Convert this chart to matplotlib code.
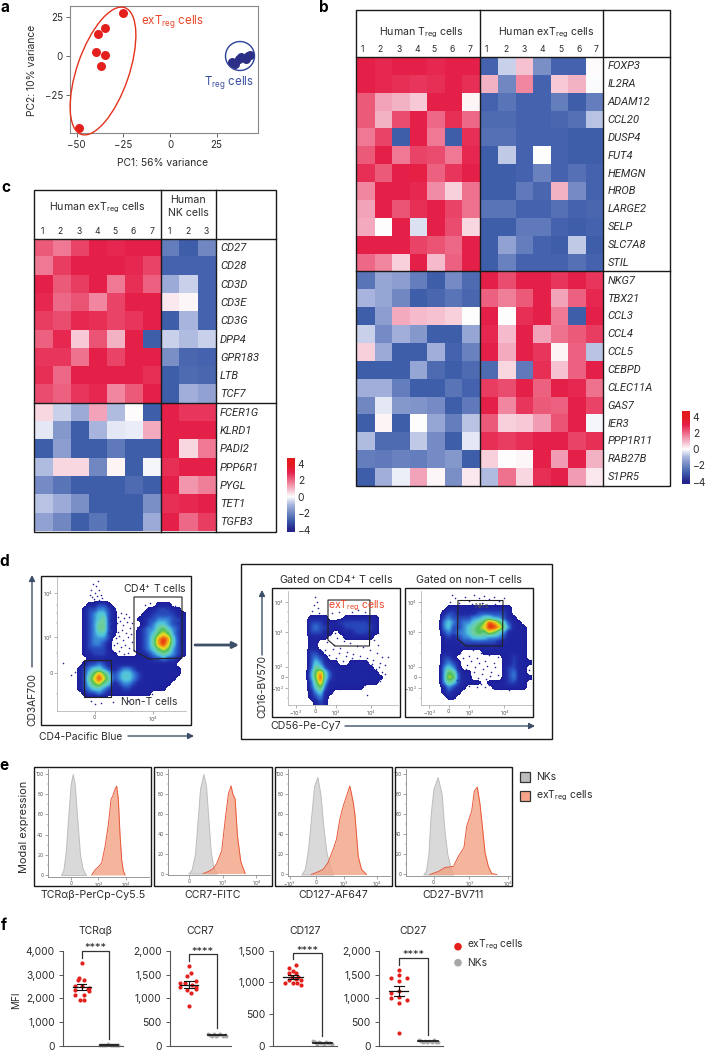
import numpy as np
import matplotlib
matplotlib.use('Agg')
import matplotlib.pyplot as plt
from matplotlib.colors import LinearSegmentedColormap
from matplotlib.patches import Ellipse, Polygon, Rectangle

W, H = 706, 1050
plt.rcParams['font.family'] = ['Inter', 'DejaVu Sans']
plt.rcParams['mathtext.default'] = 'regular'
TXT = '#2b2b2b'
ITALIC = 'Roboto'

# panel a
pc1_ex = [-25, -35, -38.5, -39.5, -35, -37, -49]
pc2_ex = [28, 18, 14, 3, 1, -6.5, -46.5]
pc1_tr = [33, 34.5, 35, 37, 38, 40.5, 42, 43]
pc2_tr = [-3.5, -4.5, -5, -1.5, -0.5, -2, 0, 1]

# panel b
genes_b = ['FOXP3', 'IL2RA', 'ADAM12', 'CCL20', 'DUSP4', 'FUT4', 'HEMGN', 'HROB', 'LARGE2', 'SELP', 'SLC7A8', 'STIL',
           'NKG7', 'TBX21', 'CCL3', 'CCL4', 'CCL5', 'CEBPD', 'CLEC11A', 'GAS7', 'IER3', 'PPP1R11', 'RAB27B', 'S1PR5']
heat_b = [
    [3, 2.9, 3, 3, 2.9, 3, 3, -2.8, -0.6, 0.8, -1.8, -2.8, -2.8, 0.05],
    [3, 2.9, 2.8, 2.7, 2.8, 3, 2.8, 1.0, -2, 1.6, -2.8, 0.7, 1.0, -0.05],
    [2.2, 1.2, 1.0, 0.7, 3, 3, 0.15, -2.8, -2.4, -2.8, -2.8, -2.2, -2.9, -2.2],
    [2.2, 1, 2.4, 3, 2, 2.8, 2, -2.6, -2.6, -2.8, -2.8, -2.7, -2.5, -0.8],
    [1.8, 2.5, -2.9, 3, 1.8, -2.9, 2.8, -2.5, -2.5, -2.8, -2.8, -2.8, -2.9, -2.9],
    [2.2, 3, 1.8, 2.5, 2.4, 1.8, 2.9, -2.9, -0.7, -2.8, 0.0, -2.8, -2.9, -2.9],
    [2.8, 2.2, 3, 3.1, 2.1, 2.7, 3, -2.9, -2.9, -2.8, -2.1, -2.8, -2.5, -2.8],
    [1.6, 3, 3, 2.9, 1.5, 0.6, 1.9, -2.9, -2.9, -2.3, -2.7, 1.0, -1.9, -2.8],
    [1.2, 3, 2.3, 2.8, 3, 2.5, 1.9, -2.4, -2.4, -2.8, -2.8, -2.5, -2.8, -2.7],
    [1.1, 0.02, 3, -0.4, 3, 2.4, 0.5, -2.9, -2.9, -2.3, -2.3, -2.8, -2.9, -2.8],
    [3, 3, 3, 2.5, 2.3, 2, 3, -2.9, -1.4, -2.2, -2.8, -2.9, -0.7, -2.9],
    [2, 1.6, 0.6, 3, 0.9, 2.1, 3, -2.9, -2.1, -2.8, -2.8, -2.8, -2.5, -2.8],
    [-2.4, -1.3, -1.5, -2.2, -2.9, -1.9, -2.6, 3, 2.4, 3, 3, 2.7, 3, 2.7],
    [-1, -1.3, -2.0, -2.9, -2.7, -2.4, -2.7, 2.1, 1.7, 2.2, 3, 1.2, 2.1, 2.9],
    [-2.9, -1.5, 1.1, 0.9, 0.8, 0.6, -0.02, 3, 0.02, 2.8, 3, 1.8, -2.9, 3],
    [-0.6, -1.9, -1.1, -1.6, -2.9, -2.9, -1.3, 2.9, 0.9, 3, 1.2, 1.9, 2.2, 2.6],
    [0.6, -1.2, -2.9, -2.9, -1.1, -2.8, -2.1, 3, 1.1, 3, 2.7, 0.15, 2.1, -0.8],
    [-2.9, -2.9, -2.9, -1.3, -2.6, -2.9, -2.6, -2.6, 0.5, -2.3, 2.8, 0.8, 2.1, 3],
    [-1.1, -1.1, -2.2, -2.9, -2.9, -2.4, -2.8, 2.6, 2.4, 3, 2.1, 3, 2.9, 1.9],
    [-2, -0.3, -1.6, -1.7, -1.9, -2.9, -2.3, 3, 1.6, 2.7, 2.2, 2.1, 3, 2.5],
    [-2.9, 0.15, -2.9, 0.0, -1.3, -2.2, -0.8, 2.2, 0.6, 0.7, 1.3, 2.3, 3, -0.1],
    [-0.9, -2.6, -2.6, -0.7, -1.9, -2.9, -0.3, 2.8, 2.6, 2.8, 3, 3, 2.5, 2.8],
    [-2.2, -2.3, -2.1, -2.2, -1.9, -1.6, -2.9, 0.6, 0.03, 0.1, 3, 1.3, 3, 1.0],
    [-2.9, -1.1, -0.2, 1.2, 0.1, -1.8, 0.3, -0.9, 1.9, 0.5, 2.8, 3, 1.3, 0.3],
]

# panel c
genes_c = ['CD27', 'CD28', 'CD3D', 'CD3E', 'CD3G', 'DPP4', 'GPR183', 'LTB', 'TCF7',
           'FCER1G', 'KLRD1', 'PADI2', 'PPP6R1', 'PYGL', 'TET1', 'TGFB3']
heat_c_ex = [
    [2.2, 1.8, 2.5, 3, 2.9, 3, 3],
    [1.8, 2.6, 3, 3, 3, 2.9, 2.5],
    [3, 2.2, 2.6, 3, 1.8, 2.8, 2.1],
    [2.9, 2, 2.3, 1.6, 2.5, 3, 3],
    [2.6, 2.4, 2.9, 2.8, 2.5, 2.7, 3],
    [2.1, 2.9, 0.7, 2.3, 1.0, 3, -2.9],
    [2.7, 2.7, 1.9, 3, 2.5, 3, 3],
    [2.8, 2, 3, 3, 3, 3, 2.8],
    [2.4, 2.1, 2.7, 2.9, 1.6, 2.2, 3],
    [0.5, -0.6, -1.2, 1.2, -0.9, 0.05, -2.9],
    [-0.3, -1.6, -2.9, -1, -0.3, -0.25, 1.1],
    [-2.9, -1.5, -2.9, -2.9, -2.3, -2.9, -2.9],
    [-0.9, 0.5, 0.5, -2, 0.15, -2.9, -0.1],
    [-1.9, -2.4, -2.9, -2.9, -2.9, -2.6, -2.9],
    [-0.8, -1.2, -1.8, -2.9, -2.9, -2.9, -1.8],
    [-1.4, -2, -2.9, -2.4, -2.9, -2.9, -1.2],
]
heat_c_nk = [
    [-2.2, -2.9, -2], [-2.8, -2.8, -2.8], [-1.2, -0.6, -2.8], [0.3, 0.1, -2.8],
    [-2.9, -1, -2.8], [-0.6, -0.9, -0.6], [-1.8, -2.7, -2.8], [-2.9, -2.6, -2.7],
    [-2.9, -1.1, -1.4], [3, 2.7, 2.7], [3, 3, 3], [3, 0.5, 1.8],
    [2.8, 3, 3], [3, 1.4, 1.7], [2.8, 2.9, 3], [3, 2, 2.6],
]

# panel d, density levels (0 = empty, 9 = peak)
flow_cd4 = [
    '00000000000000000000000000',
    '00000000000000000000000000',
    '00000000000000000000000000',
    '00000000000000000000000000',
    '00000000000000000000000000',
    '00000011221000000000111000',
    '00000122332100000011222110',
    '00000123442100000112222211',
    '00000123452100001122333221',
    '00000123552100000123443221',
    '00000123552100001233564321',
    '00000123442100001234676321',
    '00000123332000001235898421',
    '00000123321000001235897421',
    '00000122221000001234676321',
    '00000112221100001123454321',
    '00000011111111111112232210',
    '00000122321111111111111100',
    '00001234432123321111111110',
    '00001246864234432111111110',
    '00001257975234432111111100',
    '00001246754123321111111000',
    '00001234432112211111110000',
    '00000122321111111110000000',
    '00000000000000000000000000',
    '00000000000000000000000000',
    '00000000000000000000000000',
]
# scattered single events around the dense part, in channel units
sparse_cd4_x = [-5, 3, 10, -12, 14, 0, 8, -8, 18, -3, 12, 22, -15,
                48, 55, 62, 70, 78, 86, 92, 58, 66, 75, 84, 95, 50, 60, 70, 82, 92, 104, 55, 65, 74, 85, 98, 108,
                48, 58, 68, 78, 90, 102, 52, 63, 74, 86, 100, 45, 110, 102, 112, 44, 116,
                -95, -60, -50, -40, -72, -45, 0, 20, 55, 100, 130, 170, -10, 195, 210, 225,
                150, 165, 185, 200, 215, 240, 255, 250]
sparse_cd4_y = [268, 262, 275, 250, 248, 240, 232, 228, 235, 222, 218, 225, 235,
                190, 176, 188, 170, 182, 165, 178, 160, 150, 158, 146, 155, 140, 132, 125, 130, 122, 135, 115, 105, 112, 100, 108, 118,
                95, 85, 92, 78, 85, 75, 70, 62, 66, 58, 62, 160, 150, 170, 95, 120, 70,
                30, 5, 15, 25, -5, -8, -90, -88, -85, -82, -75, -62, -82, -45, -20, 15,
                205, 210, 200, 205, 195, 200, 180, 150]
flow_gated_cd4 = [
    '0000000000000000000000',
    '0000000000000000000000',
    '0000000000000000000000',
    '0000000000000000000000',
    '0000000000000000000000',
    '0000111100011111110000',
    '0000222111222222110000',
    '0000232211122222210000',
    '0000222110111222110000',
    '0000111100011111100000',
    '0000110000000000000000',
    '0000110000000000000000',
    '0000221000000000000000',
    '0000232100000000000000',
    '0000243111001111000000',
    '0000254211111111100000',
    '0000368421111111110000',
    '0000369421111111111000',
    '0000258311111111110000',
    '0000246211111110000000',
    '0000134110000000000000',
    '0000123100000000000000',
    '0000012100000000000000',
]
sparse_g4_x = [25, 35, 45, 55, 65, 75, 85, 95, 105, 115, 125, 135, 145, 155, 165, 175, 185, 195,
               30, 42, 52, 62, 72, 82, 92, 102, 112, 122, 132, 142, 152, 162, 172, 182, 192, 202,
               210, 220, 200, 190, 178, 160, 140, 120, 100, 80, 60,
               0, 5, -5, 8, -10, 12, 30, 50, 70, 90, 110, 130, 150, 165, 175, 190,
               160, 175, 195, 210, 185, 150, 130, 100, 75, 50, 35, 155]
sparse_g4_y = [120, 105, 125, 95, 115, 85, 108, 75, 100, 68, 92, 62, 88, 55, 80, 50, 70, 40,
               80, 65, 82, 55, 72, 48, 62, 42, 55, 38, 50, 35, 42, 30, 38, 22, 28, 15,
               35, 60, 60, 95, 110, 115, 125, 125, 130, 135, 130,
               240, 225, 215, 205, 198, 190, 165, 190, 195, 180, 195, 200, 195, 170, 150, 130,
               -15, -5, -12, 8, 10, -25, -30, -35, -38, -45, -60, -55]
flow_gated_nont = [
    '0000000000000000000000',
    '0000000000000000000000',
    '0000000000000000000000',
    '0000011111111111110000',
    '0000122111122222210000',
    '0000232222334433211000',
    '0000343233456986421100',
    '0000342234567998531110',
    '0000232334565764311110',
    '0000121233444333211110',
    '0000111122222221111110',
    '0000111111111111111110',
    '0000111100001111111110',
    '0000221000000000112110',
    '0000232100000000112111',
    '0000343100000000122110',
    '0000365211000000123110',
    '0000376211000000123111',
    '0000354211110111122110',
    '0000132110000011111110',
    '0000121100000000000000',
    '0000011000000000000000',
    '0000000000000000000000',
]
sparse_gn_x = [10, 20, 5, 50, 60, 75, 90, 105, 120, 135, 150, 165, 30, 70, 100, 140,
               22, 35, 48, 60, 72, 85, 98, 110, 122, 135, 148, 30, 44, 56, 68, 80, 92, 104, 116, 128, 140,
               28, 40, 52, 64, 76, 88, 100, 112, 124, 136, 148, 25, 38, 50, 62, 74, 86, 98, 110, 122, 134, 146, 158,
               220, 230, 215, 225, 240, 205, 180, 190, 210]
sparse_gn_y = [245, 235, 225, 240, 228, 245, 235, 242, 232, 240, 228, 235, 222, 218, 220, 218,
               85, 70, 88, 62, 80, 55, 72, 48, 66, 42, 60, 45, 55, 35, 48, 28, 40, 22, 32, 15, 28,
               20, 10, 22, 5, 14, -5, 8, -8, 2, -12, 6, -10, -22, -15, -28, -18, -30, -22, -32, -26, -34, -28, -36,
               5, 25, 50, 75, 20, -30, -40, 110, 100]

# panel e, channel positions relative to the 0 tick
hist_titles = ['TCRαβ-PerCp-Cy5.5', 'CCR7-FITC', 'CD127-AF647', 'CD27-BV711']
nk_x = [[-31, -24, -17, -9, -2, 4, 10, 18, 26, 34, 44],
        [-3, 7, 17, 24, 32, 42, 50, 57, 64, 72, 82],
        [-45, -35, -25, -15, -7, 3, 12, 20, 30, 40, 50],
        [-31, -23, -16, -9, -1, 12, 24, 32, 41, 51, 59]]
nk_y = [[0, 5, 22, 60, 90, 100, 90, 55, 20, 6, 0],
        [0, 4, 20, 50, 85, 100, 88, 55, 22, 6, 0],
        [0, 5, 25, 60, 88, 97, 80, 50, 22, 8, 0],
        [0, 4, 20, 60, 85, 97, 80, 45, 20, 7, 0]]
ex_x = [[61, 71, 81, 91, 101, 111, 116, 119, 124, 131, 136, 141, 146, 151, 156, 161],
        [42, 57, 72, 82, 97, 107, 117, 125, 130, 137, 144, 154, 167],
        [-15, 0, 20, 35, 50, 60, 70, 80, 90, 100, 110, 115, 125, 135, 150],
        [-11, 14, 34, 59, 74, 91, 99, 114, 122, 131, 139, 147, 154, 164, 174, 189]]
ex_y = [[0, 5, 8, 12, 28, 50, 65, 75, 78, 85, 88, 75, 40, 15, 4, 0],
        [0, 2, 5, 10, 23, 53, 80, 88, 80, 75, 38, 12, 0],
        [0, 2, 5, 12, 25, 35, 55, 68, 78, 88, 72, 60, 18, 5, 0],
        [0, 3, 7, 8, 18, 27, 48, 63, 83, 87, 70, 45, 22, 8, 1, 0]]

# panel f
mfi_titles = ['TCRαβ', 'CCR7', 'CD127', 'CD27']
mfi_max = [4000, 2000, 1500, 2000]
mfi_ticks = [[0, 1000, 2000, 3000, 4000], [0, 500, 1000, 1500, 2000], [0, 500, 1000, 1500], [0, 500, 1000, 1500, 2000]]
ex_vals = [[3500, 2850, 2750, 2750, 2500, 2500, 2450, 2400, 2350, 2300, 2150, 2150, 1950, 1950],
           [1678, 1525, 1476, 1370, 1315, 1315, 1280, 1245, 1245, 1190, 1175, 1105, 832],
           [1269, 1222, 1180, 1143, 1143, 1091, 1080, 1049, 1038, 1038, 997, 991, 986, 960],
           [1596, 1491, 1435, 1435, 1365, 1155, 1106, 1036, 1008, 966, 910, 266]]
ex_dx = [[0, -.1, -.15, .1, -.25, 0, .28, .22, -.25, .25, -.25, .08, -.07, .1],
         [0, .08, -.08, .27, -.33, -.15, .12, .27, -.3, .25, -.08, .08, 0],
         [.12, -.12, 0, -.12, .12, -.04, .18, .1, .28, -.12, .15, -.27, 0, .27],
         [0, 0, -.26, .27, 0, .02, -.27, 0, -.27, .27, 0, 0]]
nk_vals = [[60, 50, 55, 40, 65, 45, 55, 50, 40, 60],
           [260, 235, 215, 245, 205, 225, 250, 215, 235, 210],
           [75, 60, 35, 70, 45, 30, 65, 40, 55, 35],
           [125, 95, 80, 115, 85, 105, 75, 120, 90, 80]]
nk_dx = [-.32, -.25, -.18, -.1, -.03, .05, .12, .2, .27, .33]
ex_mean = [2480, 1290, 1080, 1150]
ex_sem = [110, 70, 30, 105]
nk_mean = [50, 230, 52, 100]
bracket_top = [3986, 1923, 1458, 1841]
bracket_left = [3678, 1783, 1364, 1701]
bracket_right = [280, 371, 157, 231]

heat_cmap = LinearSegmentedColormap.from_list('heat', [
    (0.0, '#25258c'), (0.125, '#3a5aa8'), (0.375, '#a7b4dd'), (0.5, '#ffffff'),
    (0.625, '#f4b3c6'), (0.75, '#ee6a88'), (0.875, '#e6214a'), (1.0, '#e41a1c')])
flow_cmap = LinearSegmentedColormap.from_list('flow', [
    '#1c1c9a', '#2230a8', '#2f6bd0', '#4fc3e0', '#6fd0a0', '#4cbf5c', '#e8e020', '#f09018', '#e8200c'])
flow_cmap.set_under('white')

fig = plt.figure(figsize=(W / 100, H / 100), dpi=100)


def px_axes(x0, y0, x1, y1):
    return fig.add_axes([x0 / W, 1 - y1 / H, (x1 - x0) / W, (y1 - y0) / H])


# ---------- a ----------
ax = px_axes(70, 6, 258, 133)
ax.scatter(pc1_ex, pc2_ex, s=42, color='#e4201c', linewidths=0)
ax.scatter(pc1_tr, pc2_tr, s=42, color='#2b2f85', linewidths=0)
ax.set_xlim(-53.6, 47.1)
ax.set_ylim(-49.4, 32.3)
ax.set_xticks([-50, -25, 0, 25], ['−50', '−25', '0', '25'])
ax.set_yticks([-25, 0, 25], ['−25', '0', '25'])
ax.tick_params(labelsize=7, length=3, width=0.7, color='#666666', labelcolor=TXT, pad=2)
for s in ax.spines.values():
    s.set_color('#888888')
    s.set_linewidth(0.8)

# ---------- b ----------
heat_b = np.array(heat_b)
ax = px_axes(356.7, 57.5, 479.5, 486)
ax.imshow(heat_b[:, :7], cmap=heat_cmap, vmin=-4, vmax=4, aspect='auto', interpolation='nearest')
ax.axis('off')
ax = px_axes(480.7, 57.5, 602, 486)
ax.imshow(heat_b[:, 7:], cmap=heat_cmap, vmin=-4, vmax=4, aspect='auto', interpolation='nearest')
ax.axis('off')

# ---------- c ----------
ax = px_axes(34.5, 239, 160, 531.5)
ax.imshow(heat_c_ex, cmap=heat_cmap, vmin=-4, vmax=4, aspect='auto', interpolation='nearest')
ax.axis('off')
ax = px_axes(161, 239, 215.5, 531.5)
ax.imshow(heat_c_nk, cmap=heat_cmap, vmin=-4, vmax=4, aspect='auto', interpolation='nearest')
ax.axis('off')

# colour bars
grad = np.linspace(4.7, -4.3, 200).reshape(-1, 1)
for x0, y0, y1 in [(682, 411, 484), (287, 458, 532)]:
    ax = px_axes(x0, y0, x0 + 8, y1)
    ax.imshow(grad, cmap=heat_cmap, vmin=-4, vmax=4, aspect='auto', extent=[0, 1, -4.3, 4.7])
    ax.set_xticks([])
    ax.yaxis.tick_right()
    ax.set_yticks([-4, -2, 0, 2, 4], ['−4', '−2', '0', '2', '4'])
    ax.tick_params(labelsize=7.4, length=0, pad=2, labelcolor=TXT)
    for s in ax.spines.values():
        s.set_visible(False)


# ---------- d ----------
def flow_plot(rows, sx, sy, box, xlim, ylim, xticks, xlabels, yticks, ylabels, xminor, yminor):
    grid = np.array([[int(c) for c in r] for r in rows], dtype=float)
    ax = px_axes(*box)
    ax.imshow(grid, cmap=flow_cmap, vmin=0.5, vmax=9, aspect='auto', interpolation='gaussian',
              extent=[xlim[0], xlim[1], ylim[0], ylim[1]], origin='upper')
    ax.scatter(sx, sy, s=1.3, color='#23239c', linewidths=0)
    ax.set_xlim(xlim)
    ax.set_ylim(ylim)
    ax.set_xticks(xticks, xlabels)
    ax.set_yticks(yticks, ylabels)
    ax.set_xticks(xminor, minor=True)
    ax.set_yticks(yminor, minor=True)
    ax.tick_params(which='major', labelsize=3.8, length=2, width=0.4, pad=1, color='#777777', labelcolor='#555555')
    ax.tick_params(which='minor', length=1, width=0.3, color='#777777')
    for name, s in ax.spines.items():
        s.set_visible(name in ('left', 'bottom'))
        s.set_color('#aaaaaa')
        s.set_linewidth(0.5)


flow_plot(flow_cd4, sparse_cd4_x, sparse_cd4_y, (57, 577, 186, 711), (-113, 273), (-112, 288),
          [0, 173], ['0', '10$^4$'], [0, 108, 240], ['0', '10$^3$', '10$^4$'],
          [-60, 60, 110, 140, 210, 240], [-60, 60, 150, 180, 205])
flow_plot(flow_gated_cd4, sparse_g4_x, sparse_g4_y, (287.7, 590.7, 398, 705), (-83, 249), (-85, 258),
          [-58, 0, 62, 167], ['−10$^3$', '0', '10$^3$', '10$^4$'],
          [-35, 0, 30, 133, 223], ['−10$^2$', '0', '10$^2$', '10$^3$', '10$^4$'],
          [-30, 30, 100, 130, 200, 225], [-65, 70, 100, 165, 195])
flow_plot(flow_gated_nont, sparse_gn_x, sparse_gn_y, (421, 590.7, 531.7, 705), (-83, 249), (-85, 258),
          [-58, 0, 62, 167], ['−10$^3$', '0', '10$^3$', '10$^4$'],
          [-35, 0, 30, 133, 223], ['−10$^2$', '0', '10$^2$', '10$^3$', '10$^4$'],
          [-30, 30, 100, 130, 200, 225], [-65, 70, 100, 165, 195])

# ---------- e ----------
hist_boxes = [(47.7, 769, 149, 876.5), (168.3, 769, 269.5, 875), (288, 769, 390, 876), (405.7, 769, 510, 876)]
hist_zero = [(-71, 233), (-63, 240), (-85, 220), (-84, 229)]
hist_ticks = [([0, 81, 164], ['0', '10$^3$', '10$^4$']),
              ([0, 100, 200], ['0', '10$^3$', '10$^4$']),
              ([-80, 0, 82, 180], ['−10$^3$', '0', '10$^3$', '10$^4$']),
              ([0, 107, 222], ['0', '10$^3$', '10$^4$'])]
for i in range(4):
    ax = px_axes(*hist_boxes[i])
    ax.fill_between(nk_x[i], nk_y[i], color='#d9d9d9', edgecolor='#bdbdbd', linewidth=0.7)
    ax.fill_between(ex_x[i], ex_y[i], color='#f3a283', alpha=0.8, linewidth=0)
    ax.plot(ex_x[i], ex_y[i], color='#e8583a', linewidth=0.7)
    ax.set_xlim(hist_zero[i])
    ax.set_ylim(-1.5, 105)
    ax.set_xticks(*hist_ticks[i])
    ax.set_yticks([0, 20, 40, 60, 80, 100])
    ax.set_yticks([10, 30, 50, 70, 90], minor=True)
    ax.tick_params(which='major', labelsize=3.6, length=2, width=0.4, pad=1, color='#666666', labelcolor='#555555')
    ax.tick_params(which='minor', length=1, width=0.3, color='#666666')
    for name, s in ax.spines.items():
        s.set_visible(name in ('left', 'bottom'))
        s.set_color('#888888')
        s.set_linewidth(0.6)

# ---------- f ----------
mfi_axis = [(63.3, 123), (170, 231), (273.3, 337), (379, 442.7)]
for i in range(4):
    x0, x1 = mfi_axis[i]
    ax = px_axes(x0, 950.7, x1, 1046)
    ax.patch.set_visible(False)
    ax.scatter(1 + np.array(ex_dx[i]), ex_vals[i], s=9, color='#e4201c', linewidths=0, zorder=2)
    ax.scatter(2 + np.array(nk_dx), nk_vals[i], s=8, color='#a6a6a6', linewidths=0, zorder=2, clip_on=False)
    m, e = ex_mean[i], ex_sem[i]
    ax.plot([0.67, 1.33], [m, m], color='#111111', lw=0.9, zorder=3)
    ax.plot([1, 1], [m - e, m + e], color='#111111', lw=0.8, zorder=3)
    ax.plot([0.83, 1.17], [m + e, m + e], color='#111111', lw=0.8, zorder=3)
    ax.plot([0.83, 1.17], [m - e, m - e], color='#111111', lw=0.8, zorder=3)
    ax.plot([1.67, 2.33], [nk_mean[i], nk_mean[i]], color='#111111', lw=1.2, zorder=3)
    ax.plot([1, 1, 2, 2], [bracket_left[i], bracket_top[i], bracket_top[i], bracket_right[i]],
            color='#333333', lw=0.9, clip_on=False)
    ax.text(1.5, bracket_top[i] + 0.03 * mfi_max[i], '****', ha='center', va='center', fontsize=8, color=TXT,
            clip_on=False)
    ax.set_xlim(0.33, 2.5)
    ax.set_ylim(0, mfi_max[i])
    ax.set_xticks([])
    ax.set_yticks(mfi_ticks[i], [f'{t:,}' for t in mfi_ticks[i]])
    ax.tick_params(labelsize=7.4, length=3, width=0.7, pad=3, color='#555555', labelcolor=TXT)
    for name, s in ax.spines.items():
        s.set_visible(name in ('left', 'bottom'))
        s.set_color('#555555')
        s.set_linewidth(0.8)

# ---------- everything drawn in figure pixels on top ----------
ov = fig.add_axes([0, 0, 1, 1], zorder=10)
ov.set_xlim(0, W)
ov.set_ylim(H, 0)
ov.axis('off')
ov.patch.set_visible(False)


def label(x, y, s, size=7, ha='center', va='center', color=TXT, **kw):
    ov.text(x, y, s, fontsize=size, ha=ha, va=va, color=color, **kw)


def frame(x0, y0, x1, y1, lw=1.0, color='#1a1a1a'):
    ov.add_patch(Rectangle((x0, y0), x1 - x0, y1 - y0, fill=False, edgecolor=color, linewidth=lw))


def arrow(x0, y0, x1, y1, lw=1.0):
    ov.annotate('', xy=(x1, y1), xytext=(x0, y0),
                arrowprops=dict(arrowstyle='-|>,head_width=0.18,head_length=0.35', color='#3d5068', lw=lw,
                                shrinkA=0, shrinkB=0))


for x, y, s in [(5, 8, 'a'), (324, 8, 'b'), (6, 188, 'c'), (4, 562, 'd'), (4, 766, 'e'), (4, 925, 'f')]:
    label(x, y, s, size=11, ha='center', color='black', fontweight='bold')

# a annotations
ov.add_patch(Ellipse((103, 71), 134, 52, angle=-71, fill=False, edgecolor='#e4321c', linewidth=1.0))
ov.add_patch(Ellipse((240, 56), 29, 29, fill=False, edgecolor='#2b3f95', linewidth=1.0))
label(173, 21, 'exT$_{reg}$ cells', size=8.3, color='#e8492a')
label(229, 83, 'T$_{reg}$ cells', size=8.3, color='#3d4fa0')
label(163, 163, 'PC1: 56% variance', size=7.4)
label(32, 70, 'PC2: 10% variance', size=7.4, rotation=90)

# b frame and labels
frame(356, 10, 670, 486)
ov.plot([356, 670], [57, 57], color='#1a1a1a', lw=1.0)
ov.plot([356, 670], [271, 271], color='#1a1a1a', lw=1.0)
ov.plot([480, 480], [10, 486], color='#1a1a1a', lw=1.0)
ov.plot([602.5, 602.5], [10, 486], color='#1a1a1a', lw=1.0)
label(421.7, 33, 'Human T$_{reg}$ cells', size=7.6)
label(546, 33, 'Human exT$_{reg}$ cells', size=7.6)
for k, x in enumerate([362, 380.5, 399, 417, 434, 452.5, 470]):
    label(x, 49, str(k + 1), size=6.2)
for k, x in enumerate([486.5, 505.5, 524, 542.5, 560.5, 579, 596]):
    label(x, 49, str(k + 1), size=6.2)
row_b = (486 - 57.5) / 24
for k, g in enumerate(genes_b):
    label(607.3, 57.5 + row_b * (k + 0.5), g, size=8, ha='left', fontstyle='italic', family=ITALIC)

# c frame and labels
frame(34, 189.5, 276, 532)
ov.plot([34, 276], [239, 239], color='#1a1a1a', lw=1.0)
ov.plot([34, 276], [403, 403], color='#1a1a1a', lw=1.0)
ov.plot([160.5, 160.5], [189.5, 532], color='#1a1a1a', lw=1.0)
ov.plot([215.5, 215.5], [189.5, 532], color='#1a1a1a', lw=1.0)
label(97.5, 208, 'Human exT$_{reg}$ cells', size=7.6)
label(188, 200, 'Human', size=7.6)
label(188, 213, 'NK cells', size=7.6)
for k, x in enumerate([42, 60.5, 79, 97, 115, 133.5, 151.5]):
    label(x, 231, str(k + 1), size=6.2)
for k, x in enumerate([169, 187.5, 206]):
    label(x, 231, str(k + 1), size=6.2)
row_c = (531.5 - 239) / 16
for k, g in enumerate(genes_c):
    label(220, 239 + row_c * (k + 0.5), g, size=8, ha='left', fontstyle='italic', family=ITALIC)

# d frames, gates and labels
frame(41, 576, 191, 725)
frame(241, 564, 552, 739)
frame(271.7, 588, 400, 717)
frame(405, 588, 533, 717)
gates = [[(134, 597), (182, 597), (182, 658), (149, 659), (134, 651)],
         [(83.5, 660), (111, 660), (111, 696.5), (83.5, 696.5)],
         [(328, 600), (370, 600), (369.5, 646), (335, 646), (328, 640)],
         [(458, 600.5), (503, 600.5), (502.5, 646), (466, 646), (457.5, 639)]]
for g in gates:
    ov.add_patch(Polygon(g, closed=True, fill=False, edgecolor='#222222', linewidth=0.8))
label(155, 589, 'CD4$^{+}$ T cells', size=7.5)
label(149, 702, 'Non-T cells', size=7.4)
label(357, 606, 'exT$_{reg}$ cells', size=7.5, color='#e8492a')
label(482, 606, 'NKs', size=5.5, color='#555555')
label(336, 580, 'Gated on CD4$^{+}$ T cells', size=7.7)
label(469, 580, 'Gated on non-T cells', size=7.7)
label(32, 699, 'CD3AF700', size=7.4, rotation=90)
arrow(32, 667, 32, 575)
label(81, 737, 'CD4-Pacific Blue', size=7.4)
arrow(128, 736, 194, 736)
arrow(195, 645, 239, 645, lw=2.0)
label(262, 687, 'CD16-BV570', size=7.5, rotation=90)
arrow(262, 655, 262, 590)
label(306, 726, 'CD56-Pe-Cy7', size=7.6)
arrow(345, 726, 535, 726)

# e frames and labels
for x0, x1 in [(33.7, 151), (154, 271.7), (274.7, 391.7), (394.7, 512)]:
    frame(x0, 767, x1, 885.7)
for x, s in zip([92.7, 213, 333, 453], hist_titles):
    label(x, 895, s, size=7.6)
label(24, 827, 'Modal expression', size=7.9, rotation=90)
ov.add_patch(Rectangle((519.5, 772), 10, 10, facecolor='#bdbdbd', edgecolor='#333333', linewidth=0.9))
ov.add_patch(Rectangle((519.5, 791), 10, 10, facecolor='#f6a58a', edgecolor='#333333', linewidth=0.9))
label(535.7, 777, 'NKs', size=7.5, ha='left')
label(535.7, 796, 'exT$_{reg}$ cells', size=7.5, ha='left')

# f labels
for x, s in zip([95, 200, 305, 413], mfi_titles):
    label(x, 931, s, size=7.5)
label(16, 1000, 'MFI', size=7.2, rotation=90)
ov.scatter([458, 458], [946.7, 962.7], s=30, color=['#e4201c', '#a6a6a6'], linewidths=0)
label(467, 944.5, 'exT$_{reg}$ cells', size=7.4, ha='left')
label(467, 963, 'NKs', size=7.4, ha='left')

fig.savefig('out.png', dpi=100)
